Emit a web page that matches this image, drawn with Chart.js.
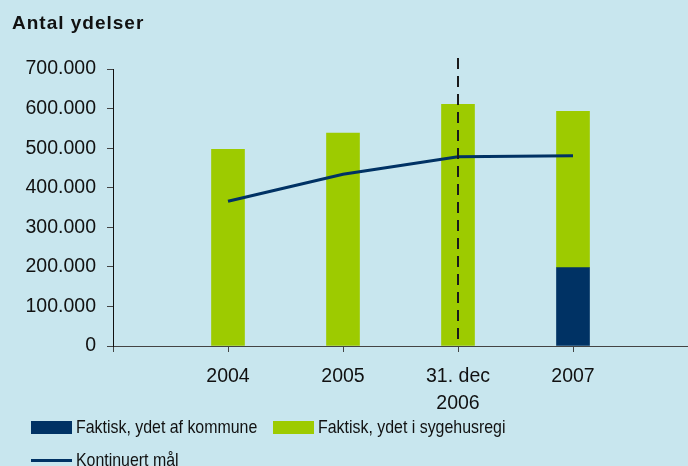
<!DOCTYPE html>
<html>
<head>
<meta charset="utf-8">
<script src="https://cdn.jsdelivr.net/npm/chart.js@4"></script>
<style>
  html, body { margin: 0; padding: 0; background: #c8e6ee; overflow: hidden; }
  #wrap { position: relative; width: 688px; height: 466px; overflow: hidden; font-family: "Liberation Sans", Arial, sans-serif; color: #111; }
  #chart { display: block; }
  #title { position: absolute; left: 12px; top: 12px; font-size: 19px; font-weight: bold; letter-spacing: 1px; }
  .leg { position: absolute; font-size: 18.5px; line-height: 20px; white-space: nowrap; transform: scaleX(0.86); transform-origin: left center; }
  .sw { position: absolute; }
</style>
</head>
<body>
<div id="wrap">
  <canvas id="chart" width="688" height="466"></canvas>
  <div id="title">Antal ydelser</div>
  <div id="legend"></div>
</div>
<script>
const categories = ["", "2004", "2005", ["31. dec", "2006"], "2007", ""];
const kommune = [null, null, null, null, 198000, null];
const sygehus = [null, 497000, 538000, 611000, 395000, null];
const maal = [null, 366000, 434000, 478000, 481000, null];
const yTicks = [0, 100000, 200000, 300000, 400000, 500000, 600000, 700000];
const markerIndex = 3; // 31. dec 2006

const navy = "#003264";
const green = "#9dcb00";

const fmt = v => String(v).replace(/\B(?=(\d{3})+(?!\d))/g, ".");

const dashPlugin = {
  id: "dash",
  afterDatasetsDraw(chart) {
    const { ctx, chartArea, scales } = chart;
    const x = scales.x.getPixelForValue(markerIndex);
    ctx.save();
    ctx.strokeStyle = "#1a1a1a";
    ctx.lineWidth = 2;
    ctx.setLineDash([11, 7]);
    ctx.beginPath();
    ctx.moveTo(x, chartArea.top - 11);
    ctx.lineTo(x, chartArea.bottom);
    ctx.stroke();
    ctx.restore();
  }
};

const chart = new Chart(document.getElementById("chart"), {
  data: {
    labels: categories,
    datasets: [
      { type: "bar", label: "Faktisk, ydet af kommune", data: kommune, backgroundColor: navy, barThickness: 33, stack: "bars", order: 2 },
      { type: "bar", label: "Faktisk, ydet i sygehusregi", data: sygehus, backgroundColor: green, barThickness: 33, stack: "bars", order: 2 },
      { type: "line", label: "Kontinuert mål", data: maal, borderColor: navy, borderWidth: 3, pointRadius: 0, stack: "line", order: 1 }
    ]
  },
  options: {
    responsive: false,
    animation: false,
    layout: { padding: { top: 69, left: 0, right: 0, bottom: 0 } },
    plugins: { legend: { display: false }, tooltip: { enabled: false } },
    scales: {
      x: {
        stacked: true,
        offset: false,
        grid: { offset: false, drawOnChartArea: false, drawTicks: true, tickLength: 6, color: "#444" },
        border: { color: "#444", width: 1 },
        ticks: { color: "#111", font: { family: "Liberation Sans", size: 19.5, lineHeight: 1.4 }, padding: 11, maxRotation: 0, autoSkip: false },
        afterFit: s => { s.height = 120; s.paddingRight = 0; s.paddingLeft = 0; }
      },
      y: {
        stacked: true,
        min: 0,
        max: 700000,
        afterBuildTicks: s => { s.ticks = yTicks.map(v => ({ value: v })); },
        grid: { drawOnChartArea: false, drawTicks: true, tickLength: 6, color: "#444" },
        border: { color: "#111", width: 1 },
        ticks: { color: "#111", font: { family: "Liberation Sans", size: 19.5 }, padding: 11, callback: v => fmt(v) },
        afterFit: s => { s.width = 113; }
      }
    }
  },
  plugins: [dashPlugin]
});

// legend built from the datasets
const legendPos = [
  { sx: 31, sy: 421, tx: 76, ty: 417 },
  { sx: 273, sy: 421, tx: 318, ty: 417 },
  { sx: 31, sy: 459, tx: 76, ty: 450 }
];
const legend = document.getElementById("legend");
chart.data.datasets.forEach((ds, i) => {
  const p = legendPos[i];
  const sw = document.createElement("div");
  sw.className = "sw";
  sw.style.left = p.sx + "px";
  sw.style.width = "41px";
  sw.style.top = p.sy + "px";
  if (ds.type === "line") {
    sw.style.height = "3px";
    sw.style.background = ds.borderColor;
  } else {
    sw.style.height = "13px";
    sw.style.background = ds.backgroundColor;
  }
  legend.appendChild(sw);
  const t = document.createElement("div");
  t.className = "leg";
  t.style.left = p.tx + "px";
  t.style.top = p.ty + "px";
  t.textContent = ds.label;
  legend.appendChild(t);
});
</script>
</body>
</html>
